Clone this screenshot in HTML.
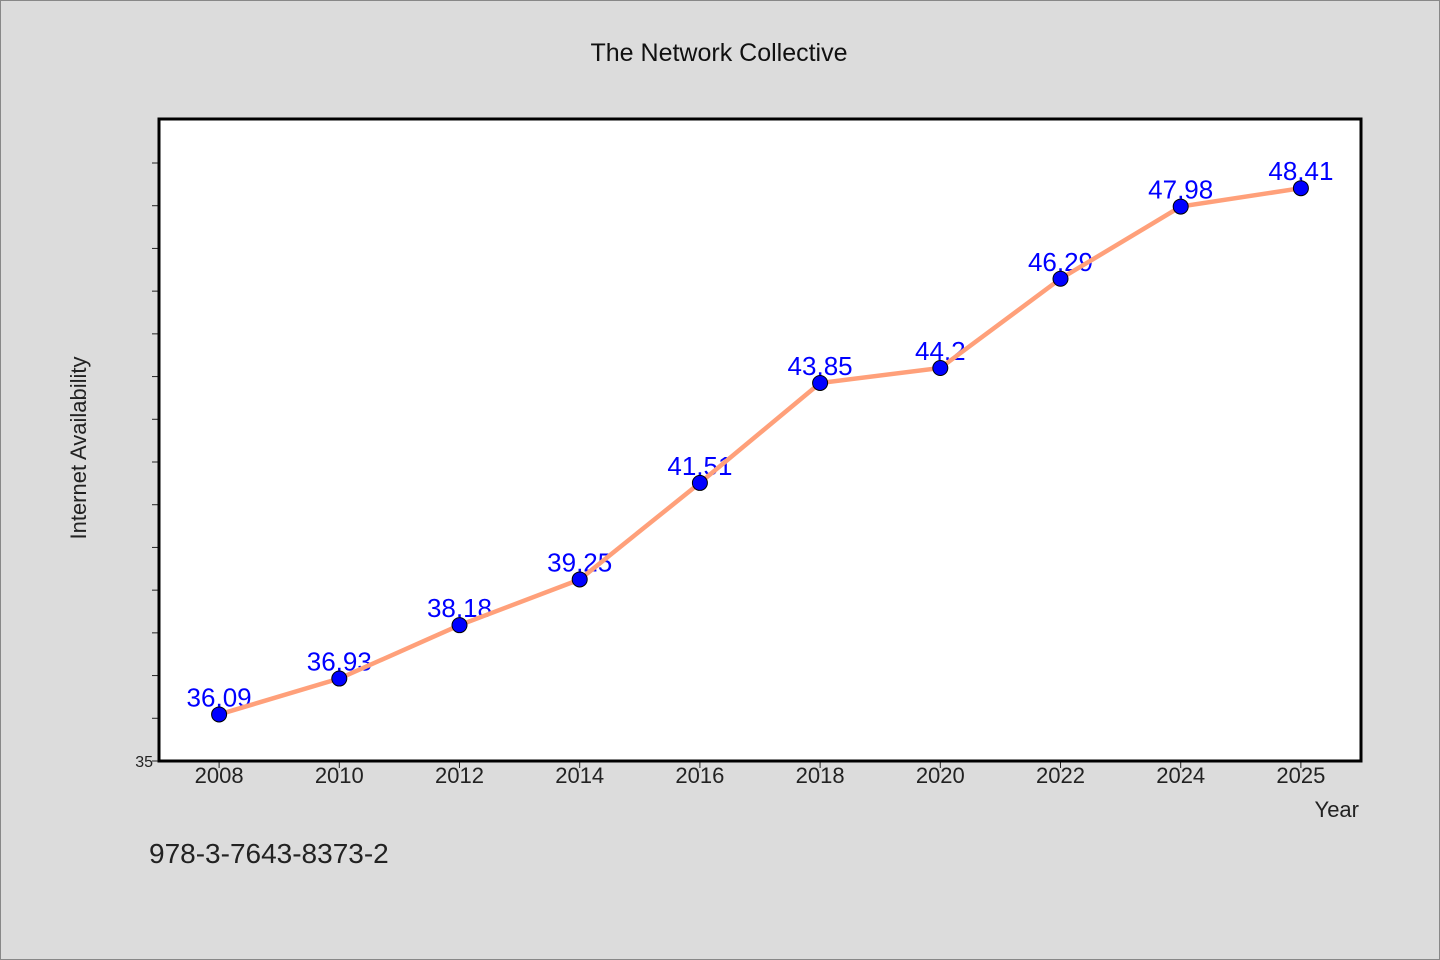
<!DOCTYPE html>
<html><head><meta charset="utf-8"><style>
html,body{margin:0;padding:0;background:#dcdcdc;}
svg{display:block;font-family:"WenQuanYi Zen Hei","Liberation Sans",sans-serif;}
</style></head><body>
<svg id="chart" width="1440" height="960">
<rect x="0.5" y="0.5" width="1439" height="959" fill="#dcdcdc" stroke="#888"/>
<text x="719" y="61" text-anchor="middle" font-size="25" fill="#111">The Network Collective</text>
<rect x="159" y="119" width="1202" height="642" fill="#fff"/>
<g id="marks"></g>
<rect x="159" y="119" width="1202" height="642" fill="none" stroke="#000" stroke-width="3"/>
<text x="86" y="448" text-anchor="middle" font-size="22" fill="#222" transform="rotate(-90 86 448)">Internet Availability</text>
<text x="1359" y="817" text-anchor="end" font-size="22" fill="#222">Year</text>
<text x="149" y="863" font-size="28" fill="#222">978-3-7643-8373-2</text>
</svg>
<script>
const categories = ["2008","2010","2012","2014","2016","2018","2020","2022","2024","2025"];
const values = [36.09,36.93,38.18,39.25,41.51,43.85,44.2,46.29,47.98,48.41];
const valueLabels = ["36,09","36,93","38,18","39,25","41,51","43,85","44,2","46,29","47,98","48,41"];
const yTicks = [35,36,37,38,39,40,41,42,43,44,45,46,47,48,49];
const yTickLabels = ["35"];

const svg = document.getElementById('chart');
const g = document.getElementById('marks');
const NS = 'http://www.w3.org/2000/svg';
const L=159,R=1361,T=119,B=761,yMin=35,yMax=50.03;
const band=(R-L)/categories.length;
function xs(i){return L+band*(i+0.5);}
function ys(v){return B-(v-yMin)/(yMax-yMin)*(B-T);}
function mk(tag,attrs,parent){const e=document.createElementNS(NS,tag);for(const k in attrs)e.setAttribute(k,attrs[k]);(parent||g).appendChild(e);return e;}

yTicks.forEach((v,i)=>{
  const t=mk('line',{x1:152,x2:159,y1:ys(v),y2:ys(v),stroke:'#222','stroke-width':1});
  
  
});
yTickLabels.forEach((s)=>{
  const t=mk('text',{x:153,y:ys(+s)+6,'text-anchor':'end','font-size':16,fill:'#222'});
  t.textContent=s;
  
  
});
categories.forEach((c,i)=>{
  const t=mk('line',{x1:xs(i),x2:xs(i),y1:761,y2:768,stroke:'#222','stroke-width':1});
  
  
  const lb=mk('text',{x:xs(i),y:783,'text-anchor':'middle','font-size':22,fill:'#222'});
  lb.textContent=c;
  
  
});
values.forEach((v,i)=>{
  const t=mk('text',{x:xs(i),y:ys(v)-8,'text-anchor':'middle','font-size':26,fill:'#0000ff'});
  t.textContent=valueLabels[i];
  
  
});
const line=mk('polyline',{points:values.map((v,i)=>xs(i)+','+ys(v)).join(' '),fill:'none',stroke:'#ffa07a','stroke-width':4.5});


values.forEach((v,i)=>{
  const c=mk('circle',{cx:xs(i),cy:ys(v),r:7.5,fill:'#0000ff',stroke:'#000','stroke-width':1});
  
  
});
</script>
</body></html>
